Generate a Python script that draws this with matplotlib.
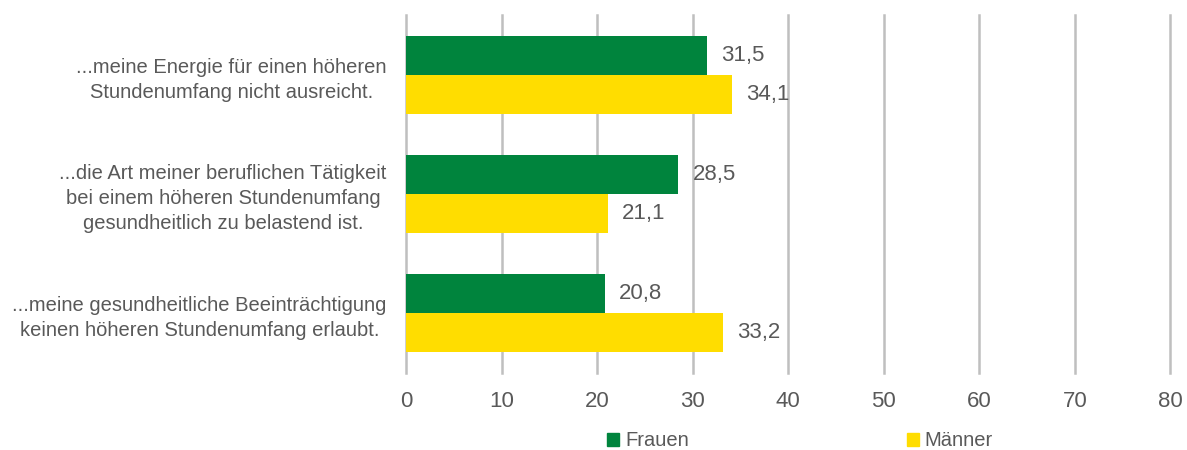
import matplotlib.pyplot as plt
from matplotlib.patches import Patch

plt.rcParams['font.family'] = ['Liberation Sans', 'DejaVu Sans']

# reasons (top to bottom) and shares in percent
categories = [
    "...meine Energie für einen höheren\nStundenumfang nicht ausreicht.",
    "...die Art meiner beruflichen Tätigkeit\nbei einem höheren Stundenumfang\ngesundheitlich zu belastend ist.",
    "...meine gesundheitliche Beeinträchtigung\nkeinen höheren Stundenumfang erlaubt.",
]
frauen = [31.5, 28.5, 20.8]
maenner = [34.1, 21.1, 33.2]
xticks = [0, 10, 20, 30, 40, 50, 60, 70, 80]

GREEN = "#00843D"
YELLOW = "#FFDD00"
TEXT = "#595959"
GRID = "#BFBFBF"

fig = plt.figure(figsize=(11.87, 4.5), dpi=100)
ax = fig.add_axes([0.342, 0.171, 0.644, 0.796])

h = 0.327
pos = range(len(categories))
ax.barh([p - h / 2 for p in pos], frauen, height=h, color=GREEN, zorder=3)
ax.barh([p + h / 2 for p in pos], maenner, height=h, color=YELLOW, zorder=3)

for p, v in zip(pos, frauen):
    ax.text(v + 1.5, p - h / 2, f"{v:.1f}".replace(".", ","), va="center", ha="left",
            fontsize=16, color=TEXT)
for p, v in zip(pos, maenner):
    ax.text(v + 1.5, p + h / 2, f"{v:.1f}".replace(".", ","), va="center", ha="left",
            fontsize=16, color=TEXT)

ax.set_xlim(0, 80)
ax.set_ylim(2.5, -0.5)
ax.set_xticks(xticks)
ax.set_xticklabels([str(t) for t in xticks], fontsize=16, color=TEXT)
ax.set_yticks(list(pos))
ax.set_yticklabels(categories, fontsize=14.5, color=TEXT, multialignment="center",
                   linespacing=1.4)
ax.tick_params(axis="both", length=0)
ax.tick_params(axis="x", pad=13)
ax.tick_params(axis="y", pad=14)

ax.grid(axis="x", color=GRID, linewidth=1.8, zorder=0)
ax.grid(axis="y", visible=False)
for gl in ax.get_xgridlines():
    gl.set_clip_on(False)
for s in ax.spines.values():
    s.set_visible(False)

handles = [Patch(color=GREEN, label="Frauen"), Patch(color=YELLOW, label="Männer")]
fig.legend(handles=handles, loc="center", bbox_to_anchor=(0.674, 0.02), ncol=2,
           frameon=False, fontsize=14.5, labelcolor=TEXT, handlelength=0.6,
           handleheight=0.6, handletextpad=0.3, columnspacing=10.8)

fig.savefig("out.png", dpi=100)
